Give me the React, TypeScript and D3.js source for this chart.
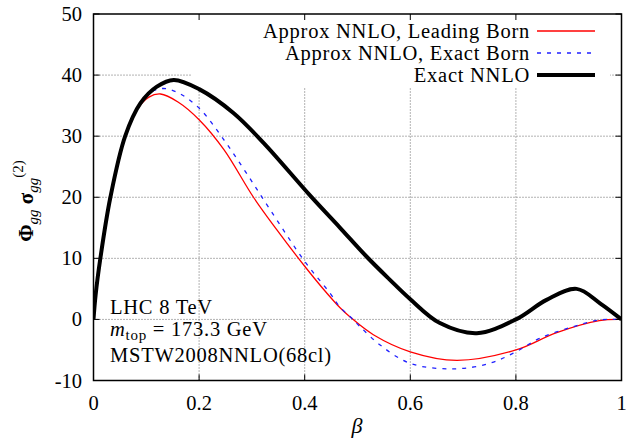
import React from 'react';
import * as d3 from 'd3';

// Exact NNLO (black, thick)
const blackBeta = [0, 0.004, 0.013, 0.032, 0.06, 0.089, 0.12, 0.152, 0.2, 0.265, 0.322, 0.41, 0.467, 0.517, 0.56, 0.6, 0.656, 0.726, 0.8, 0.858, 0.915, 0.96, 1.0];
const blackVal = [0, 4, 10, 20, 30, 35.4, 38.1, 39.2, 37.7, 33.8, 28.9, 20.3, 15.0, 10.3, 6.6, 3.3, -0.6, -2.25, 0, 3.2, 5.0, 2.6, 0];

// Approx NNLO, Leading Born (red)
const redBeta = [0, 0.004, 0.013, 0.032, 0.06, 0.082, 0.105, 0.127, 0.16, 0.2, 0.247, 0.303, 0.347, 0.4, 0.436, 0.467, 0.486, 0.53, 0.6, 0.688, 0.8, 0.876, 0.958, 1.0];
const redVal = [0, 4, 10, 20, 29.8, 34.3, 36.4, 36.9, 35.6, 32.7, 27.8, 20, 14.7, 8.7, 4.9, 1.9, 0.4, -2.5, -5.3, -6.7, -5.0, -2.2, -0.2, 0];

// Approx NNLO, Exact Born (blue dashed)
const blueBeta = [0, 0.004, 0.013, 0.032, 0.06, 0.08, 0.101, 0.13, 0.158, 0.2, 0.247, 0.29, 0.335, 0.4, 0.448, 0.467, 0.49, 0.505, 0.543, 0.6, 0.681, 0.75, 0.8, 0.845, 0.908, 0.958, 1.0];
const blueVal = [0, 4, 10, 20, 30, 34, 36.8, 37.8, 37.2, 34.6, 29.4, 23.9, 17.9, 9.5, 4.3, 2.0, 0.1, -1.2, -4.2, -7.2, -8.1, -7.2, -5.3, -3.1, -1.2, -0.1, 0];

const xTicks = [0, 0.2, 0.4, 0.6, 0.8, 1];
const xTickLabels = ['0', '0.2', '0.4', '0.6', '0.8', '1'];
const yTicks = [-10, 0, 10, 20, 30, 40, 50];
const yTickLabels = ['-10', '0', '10', '20', '30', '40', '50'];

const legendLabels = ['Approx NNLO, Leading Born', 'Approx NNLO, Exact Born', 'Exact NNLO'];
const annotationLines = ['LHC 8 TeV', '173.3 GeV', 'MSTW2008NNLO(68cl)'];

const W = 626;
const H = 445;
const L = 93.5;
const R = 621.5;
const T = 14;
const B = 380.5;
const FONT = '"Liberation Serif", "Times New Roman", serif';
const FS = 20.5;
const LS = 0.75;

export default function App() {
  const x = d3.scaleLinear().domain([0, 1]).range([L, R]);
  const y = d3.scaleLinear().domain([-10, 50]).range([B, T]);
  const line = d3
    .line<[number, number]>()
    .x((d) => x(d[0]))
    .y((d) => y(d[1]))
    .curve(d3.curveCatmullRom.alpha(0.5));
  const zip = (a: number[], b: number[]) => a.map((v, i) => [v, b[i]] as [number, number]);

  const series = [
    { d: zip(redBeta, redVal), color: '#ff0000', width: 1.3, dash: undefined as string | undefined },
    { d: zip(blueBeta, blueVal), color: '#2020ff', width: 1.3, dash: '4,6' },
    { d: zip(blackBeta, blackVal), color: '#000000', width: 4, dash: undefined },
  ];

  const legendRowY = [31, 53, 75];
  const legendTextX = 530;
  const legendLineX1 = 537;
  const legendLineX2 = 595;

  return (
    <svg
      width={W}
      height={H}
      style={{ position: 'absolute', left: 0, top: 0, background: '#fff' }}
      fontFamily={FONT}
    >
      <defs>
        <clipPath id="plotclip">
          <rect x={L} y={T - 2} width={R - L} height={B - T + 4} />
        </clipPath>
      </defs>
      <rect x={0} y={0} width={W} height={H} fill="#fff" />
      {/* grid */}
      <g stroke="#666" strokeWidth={1} strokeDasharray="1,2">
        {xTicks.slice(1, -1).map((t) => (
          <line key={'gx' + t} x1={x(t)} x2={x(t)} y1={B} y2={T} />
        ))}
        {yTicks.slice(1, -1).map((t) => (
          <line key={'gy' + t} x1={L} x2={R} y1={y(t)} y2={y(t)} />
        ))}
      </g>
      {/* opaque key box */}
      <rect x={192} y={T + 1} width={418} height={72} fill="#fff" />
      {/* curves */}
      <g clipPath="url(#plotclip)" fill="none">
        {series.map((s, i) => (
          <path
            key={i}
            d={line(s.d) || ''}
            stroke={s.color}
            strokeWidth={s.width}
            strokeDasharray={s.dash}
            strokeLinejoin="round"
          />
        ))}
      </g>
      {/* frame */}
      <rect x={L} y={T} width={R - L} height={B - T} fill="none" stroke="#000" strokeWidth={1.5} />
      {/* ticks */}
      <g stroke="#000" strokeWidth={1}>
        {xTicks.map((t) => (
          <g key={'tx' + t}>
            <line x1={x(t)} x2={x(t)} y1={B} y2={B - 6} />
            <line x1={x(t)} x2={x(t)} y1={T} y2={T + 6} />
          </g>
        ))}
        {yTicks.map((t) => (
          <g key={'ty' + t}>
            <line x1={L} x2={L + 6} y1={y(t)} y2={y(t)} />
            <line x1={R} x2={R - 6} y1={y(t)} y2={y(t)} />
          </g>
        ))}
      </g>
      {/* tick labels */}
      <g fontSize={FS} fill="#000">
        {xTicks.map((t, i) => (
          <text key={'lx' + t} x={x(t)} y={410} textAnchor="middle">
            {xTickLabels[i]}
          </text>
        ))}
        {yTicks.map((t, i) => (
          <text key={'ly' + t} x={82} y={y(t) + 7} textAnchor="end">
            {yTickLabels[i]}
          </text>
        ))}
      </g>
      {/* axis labels */}
      <text x={357} y={433} fontSize={22} fontStyle="italic" textAnchor="middle">
        β
      </text>
      <g transform="translate(33,201) rotate(-90)">
        <text x={0} y={0} textAnchor="middle" fontSize={21}>
          <tspan fontWeight="bold">Φ</tspan>
          <tspan fontSize={15} fontStyle="italic" dy={5}>gg</tspan>
          <tspan dy={-5} fontWeight="bold"> σ</tspan>
          <tspan fontSize={15} fontStyle="italic" dy={5}>gg</tspan>
          <tspan fontSize={15} dy={-15}>(2)</tspan>
        </text>
      </g>
      {/* legend */}
      {legendLabels.map((lab, i) => (
        <text
          key={'lg' + i}
          x={legendTextX}
          y={legendRowY[i] + 7}
          textAnchor="end"
          fontSize={FS}
          letterSpacing={LS}
        >
          {lab}
        </text>
      ))}
      {series.map((s, i) => (
        <line
          key={'ls' + i}
          x1={legendLineX1}
          x2={legendLineX2}
          y1={legendRowY[i]}
          y2={legendRowY[i]}
          stroke={s.color}
          strokeWidth={s.width}
          strokeDasharray={s.dash}
        />
      ))}
      {/* annotation */}
      <g fontSize={FS} letterSpacing={LS}>
        <text x={110} y={314}>{annotationLines[0]}</text>
        <text x={110} y={336}>
          <tspan fontStyle="italic">m</tspan>
          <tspan fontSize={15} dy={4}>top</tspan>
          <tspan dy={-4}> = {annotationLines[1]}</tspan>
        </text>
        <text x={110} y={362}>{annotationLines[2]}</text>
      </g>
    </svg>
  );
}
